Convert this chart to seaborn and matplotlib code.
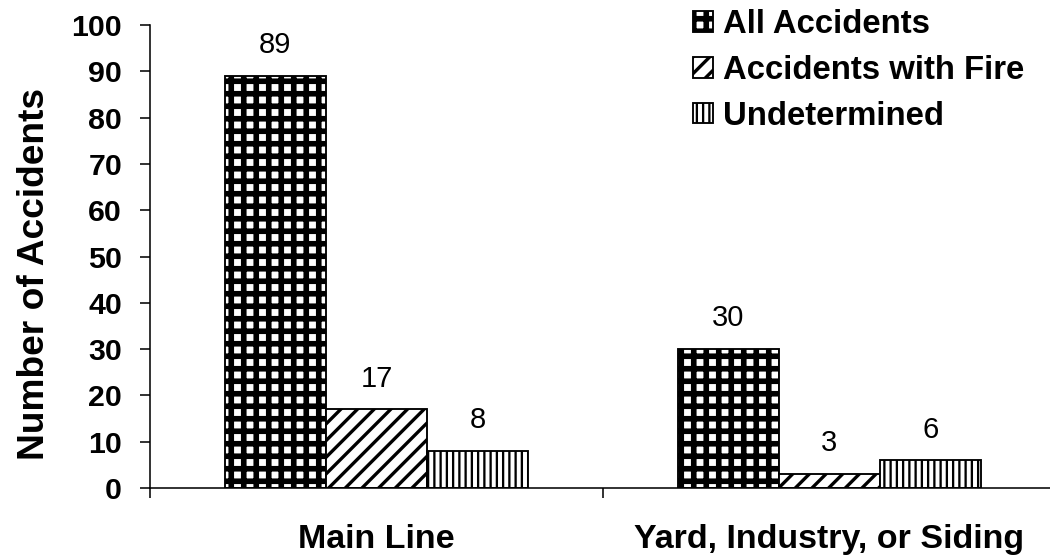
import pandas as pd
import numpy as np
import seaborn as sns
import matplotlib.pyplot as plt
import matplotlib.patches as mpatches

# data
locations = ["Main Line", "Yard, Industry, or Siding"]
series = ["All Accidents", "Accidents with Fire", "Undetermined"]
all_accidents = [89, 30]
with_fire = [17, 3]
undetermined = [8, 6]

# hatch style per series (pattern, hatch line width in pt)
hatches = ["++", "///", "||||"]
hatch_lw = [2.7, 1.6, 1.1]

df = pd.DataFrame({
    "Location": locations * 3,
    "Series": [s for s in series for _ in locations],
    "Count": all_accidents + with_fire + undetermined,
})

sns.set_style("ticks")
plt.rcParams["font.family"] = ["Liberation Sans", "DejaVu Sans"]
for k in ["text.color", "axes.labelcolor", "xtick.color", "ytick.color", "axes.edgecolor"]:
    plt.rcParams[k] = "black"


def set_hatch_lw(artist, lw):
    # matplotlib 3.10 keeps the hatch width on the patch itself
    if hasattr(artist, "set_hatch_linewidth"):
        artist.set_hatch_linewidth(lw)
    else:
        artist._hatch_linewidth = lw


# 150 dpi so the hatch spacing comes out like the original
fig = plt.figure(figsize=(7, 560 / 150), dpi=150)
ax = fig.add_axes([150 / 1050, 72 / 560, 906 / 1050, 463 / 560])

sns.barplot(data=df, x="Location", y="Count", hue="Series", hue_order=series,
            order=locations, palette=["white"] * 3, edgecolor="black",
            linewidth=0.9, width=0.67, errorbar=None, legend=False, ax=ax)

#hatch each series and put the value on top
for cont, h, hlw in zip(ax.containers, hatches, hatch_lw):
    for bar in cont:
        bar.set_hatch(h)
        bar.set_edgecolor("black")
        set_hatch_lw(bar, hlw)
    ax.bar_label(cont, padding=8, fontsize=14)

ax.set_xlim(-0.5, 1.5)
ax.set_ylim(0, 100)
ax.set_yticks(np.arange(0, 101, 10))
ax.tick_params(axis="y", labelsize=14.6, length=4.8, width=0.75, direction="out", pad=8.6)
for lab in ax.get_yticklabels():
    lab.set_fontweight("bold")

ax.set_xticks([0, 1])
ax.set_xticklabels(locations, fontsize=16.3, fontweight="bold")
ax.tick_params(axis="x", which="major", length=0, pad=17.5)
ax.set_xticks([-0.5, 0.5, 1.5], minor=True)
ax.tick_params(axis="x", which="minor", length=4.8, width=0.75, direction="out")

ax.set_xlabel("")
ax.set_ylabel("Number of Accidents", fontsize=17.8, fontweight="bold")
ax.yaxis.set_label_coords((52 - 150) / 906, (488 - 274) / 463)
sns.despine(ax=ax)
ax.spines["left"].set_linewidth(0.75)
ax.spines["bottom"].set_linewidth(0.75)

handles = [mpatches.Patch(facecolor="white", edgecolor="black", hatch=h, label=s, linewidth=0.9)
           for s, h in zip(series, hatches)]
leg = fig.legend(handles=handles, loc="upper left", bbox_to_anchor=(693 / 1050, 1 - 9 / 560),
                 frameon=False, prop={"size": 15.8, "weight": "bold"},
                 handlelength=0.6, handleheight=0.6, handletextpad=0.3,
                 labelspacing=0.45, borderpad=0, borderaxespad=0)
for p, hlw in zip(leg.get_patches(), hatch_lw):
    set_hatch_lw(p, hlw)

fig.savefig("out.png", dpi=150)
